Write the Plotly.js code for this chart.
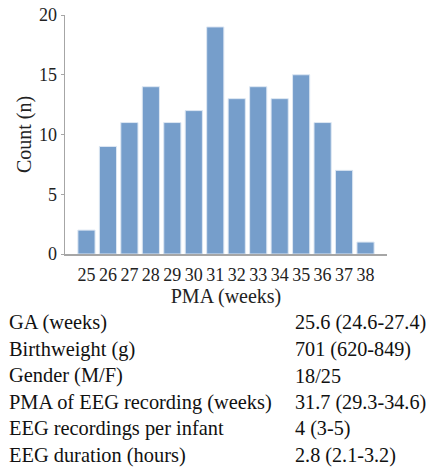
<!DOCTYPE html>
<html>
<head>
<meta charset="utf-8">
<script src="https://cdn.plot.ly/plotly-3.0.1.min.js"></script>
<style>html,body{margin:0;padding:0;background:#fff;}#chart{width:444px;height:467px;}</style>
</head>
<body>
<div id="chart"></div>
<script>
const pmaWeeks = [25, 26, 27, 28, 29, 30, 31, 32, 33, 34, 35, 36, 37, 38];
const counts = [2, 9, 11, 14, 11, 12, 19, 13, 14, 13, 15, 11, 7, 1];
const yTicks = [0, 5, 10, 15, 20];
const tableLabels = ["GA (weeks)", "Birthweight (g)", "Gender (M/F)", "PMA of EEG recording (weeks)", "EEG recordings per infant", "EEG duration (hours)"];
const tableValues = ["25.6 (24.6-27.4)", "701 (620-849)", "18/25", "31.7 (29.3-34.6)", "4 (3-5)", "2.8 (2.1-3.2)"];

const serif = "Liberation Serif, Times New Roman, serif";
const plotBottom = 254.3;
const plotLeft = 65;
const rowBaselines = [330, 356.5, 383, 409.6, 436, 462.7];

const annotations = [];
tableLabels.forEach((lab, i) => {
  const centerY = rowBaselines[i] - 7;
  annotations.push({text: lab, xref: 'paper', yref: 'paper', x: 0, y: 0, xanchor: 'left', yanchor: 'middle',
    xshift: 7 - plotLeft, yshift: -(centerY - plotBottom), showarrow: false, font: {family: serif, size: 20.4, color: '#111'}});
  annotations.push({text: tableValues[i], xref: 'paper', yref: 'paper', x: 0, y: 0, xanchor: 'left', yanchor: 'middle',
    xshift: 293 - plotLeft, yshift: -(centerY - plotBottom), showarrow: false, font: {family: serif, size: 20.2, color: '#111'}});
});

const data = [{
  type: 'bar', x: pmaWeeks, y: counts, width: 0.8,
  marker: {color: '#769ecb', line: {color: '#dde7f3', width: 1}},
  hoverinfo: 'skip'
}];

const layout = {
  width: 444, height: 467,
  margin: {l: 65, r: 57.3, t: 15, b: 212.7, pad: 0},
  paper_bgcolor: '#fff', plot_bgcolor: '#fff',
  showlegend: false,
  font: {family: serif, color: '#222'},
  xaxis: {
    range: [24, 39], tickvals: pmaWeeks, ticktext: pmaWeeks.map(String),
    showline: true, linecolor: '#a6a6a6', linewidth: 1.5, ticks: '', showgrid: false, zeroline: false,
    tickfont: {family: serif, size: 18, color: '#222'}, ticklabelstandoff: 4,
    title: {text: 'PMA (weeks)', font: {family: serif, size: 20, color: '#222'}, standoff: 0}
  },
  yaxis: {
    range: [0, 20], tickvals: yTicks, ticktext: yTicks.map(String),
    showline: true, linecolor: '#a6a6a6', linewidth: 1.5, ticks: 'outside', ticklen: 3, tickcolor: '#a6a6a6',
    showgrid: false, zeroline: false,
    tickfont: {family: serif, size: 18, color: '#222'},
    title: {text: 'Count (n)', font: {family: serif, size: 20, color: '#222'}, standoff: 2}
  },
  annotations: annotations
};

Plotly.newPlot('chart', data, layout, {staticPlot: true, displayModeBar: false});
</script>
</body>
</html>
